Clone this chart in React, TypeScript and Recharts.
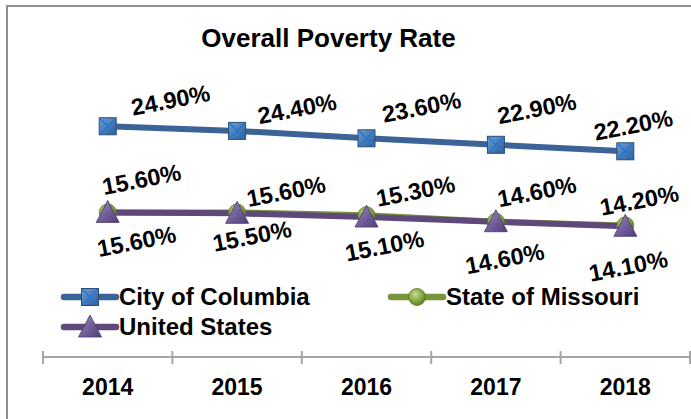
import { LineChart, Line, XAxis, YAxis, Legend, LabelList } from "recharts"

const years = ["2014", "2015", "2016", "2017", "2018"]
const columbia = [24.9, 24.4, 23.6, 22.9, 22.2]
const missouri = [15.6, 15.6, 15.3, 14.6, 14.2]
const unitedStates = [15.6, 15.5, 15.1, 14.6, 14.1]

const data = years.map((year, i) => ({
  year,
  columbia: columbia[i],
  missouri: missouri[i],
  unitedStates: unitedStates[i],
}))

// label centre offsets from each point, as placed in the original
const columbiaLabelPos: [number, number][] = [[63, -26], [60, -22], [55, -31], [41, -36], [8, -26]]
const missouriLabelPos: [number, number][] = [[34, -33], [49, -21], [49, -24], [41, -30], [14, -25]]
const usLabelPos: [number, number][] = [[29, 29], [15, 23], [18, 29], [9, 37], [3, 40]]

const FONT = "'Liberation Sans', Arial, Helvetica, sans-serif"
const BLUE = "#3b6397"
const GREEN = "#77933c"
const PURPLE = "#5f497a"

function makeLabel(offsets: [number, number][]) {
  return (props: any) => {
    const { x, y, value, index } = props
    if (x == null || y == null) return null
    const [dx, dy] = offsets[index] ?? [0, 0]
    const cx = x + dx
    const cy = y + dy
    return (
      <text
        x={cx}
        y={cy}
        textAnchor="middle"
        dominantBaseline="central"
        transform={`rotate(-11 ${cx} ${cy})`}
        fontFamily={FONT}
        fontWeight="bold"
        fontSize={23.5}
        fill="#000"
      >
        {Number(value).toFixed(2)}%
      </text>
    )
  }
}

function SquareMark({ cx, cy }: { cx: number; cy: number }) {
  const s = 8.5
  return (
    <g>
      <rect x={cx - s} y={cy - s} width={s * 2} height={s * 2} fill="url(#sqGrad)" stroke="#2b4c78" strokeWidth={1} />
      <line x1={cx - s + 1} y1={cy - s + 1} x2={cx + s - 1} y2={cy + s - 1} stroke="#1f7ad0" strokeWidth={1.6} />
      <line x1={cx + s - 1} y1={cy - s + 1} x2={cx - s + 1} y2={cy + s - 1} stroke="#1f7ad0" strokeWidth={1.6} />
    </g>
  )
}

function CircleMark({ cx, cy }: { cx: number; cy: number }) {
  return <circle cx={cx} cy={cy} r={8.5} fill="url(#ciGrad)" stroke="#5d7a29" strokeWidth={0.8} />
}

function TriangleMark({ cx, cy }: { cx: number; cy: number }) {
  return (
    <polygon
      points={`${cx},${cy - 12} ${cx + 11.5},${cy + 10} ${cx - 11.5},${cy + 10}`}
      fill="url(#trGrad)"
      stroke="#4a3a6b"
      strokeWidth={0.8}
    />
  )
}

const dotOf = (Mark: any) => (props: any) => {
  const { cx, cy, index } = props
  if (cx == null || cy == null) return <g key={index} />
  return <Mark key={index} cx={cx} cy={cy} />
}

function YearTick(props: any) {
  const { x, y, payload, index, visibleTicksCount } = props
  const half = payload?.offset || 64.7
  const isLast = index === (visibleTicksCount ?? years.length) - 1
  return (
    <g>
      <line x1={x - half} x2={x - half} y1={y - 6} y2={y + 7} stroke="#a6a6a6" strokeWidth={2} />
      {isLast && <line x1={x + half} x2={x + half} y1={y - 6} y2={y + 7} stroke="#a6a6a6" strokeWidth={2} />}
      <text x={x} y={y + 38} textAnchor="middle" fontFamily={FONT} fontWeight="bold" fontSize={23} fill="#000">
        {payload.value}
      </text>
    </g>
  )
}

const legendItems = [
  { name: "City of Columbia", color: BLUE, Mark: SquareMark, left: 61, top: 297 },
  { name: "State of Missouri", color: GREEN, Mark: CircleMark, left: 388, top: 297 },
  { name: "United States", color: PURPLE, Mark: TriangleMark, left: 61, top: 327 },
]

function ChartLegend() {
  return (
    <div style={{ position: "relative", width: 691, height: 419 }}>
      {legendItems.map(({ name, color, Mark, left, top }) => (
        <div
          key={name}
          style={{ position: "absolute", left, top: top - 13, height: 26, display: "flex", alignItems: "center" }}
        >
          <svg width={58} height={26} style={{ overflow: "visible" }}>
            <line x1={3} x2={55} y1={13} y2={13} stroke={color} strokeWidth={6.5} strokeLinecap="round" />
            <Mark cx={29} cy={13} />
          </svg>
          <span style={{ fontFamily: FONT, fontWeight: "bold", fontSize: 24, color: "#000", whiteSpace: "nowrap" }}>
            {name}
          </span>
        </div>
      ))}
    </div>
  )
}

export default function App() {
  return (
    <div style={{ position: "absolute", left: 0, top: 0, width: 691, height: 419, overflow: "hidden", background: "#fff" }}>
      <svg width={0} height={0} style={{ position: "absolute" }}>
        <defs>
          <linearGradient id="sqGrad" x1="0" y1="0" x2="1" y2="1">
            <stop offset="0%" stopColor="#6f9fd8" />
            <stop offset="100%" stopColor="#2c5a94" />
          </linearGradient>
          <radialGradient id="ciGrad" cx="40%" cy="35%" r="65%">
            <stop offset="0%" stopColor="#c7de8e" />
            <stop offset="60%" stopColor="#86a840" />
            <stop offset="100%" stopColor="#5e7d26" />
          </radialGradient>
          <linearGradient id="trGrad" x1="0" y1="0" x2="1" y2="1">
            <stop offset="0%" stopColor="#9a86c0" />
            <stop offset="100%" stopColor="#4f3c78" />
          </linearGradient>
        </defs>
      </svg>
      <div
        style={{ position: "absolute", left: 6, top: 5, width: 800, height: 800, border: "2px solid #8e8e8e", boxSizing: "border-box" }}
      />
      <div
        style={{
          position: "absolute",
          left: 0,
          top: 25,
          width: 657,
          textAlign: "center",
          fontFamily: FONT,
          fontWeight: "bold",
          fontSize: 26,
          lineHeight: "26px",
          color: "#000",
        }}
      >
        Overall Poverty Rate
      </div>
      <div style={{ position: "absolute", left: 0, top: 0 }}>
        <LineChart width={691} height={419} data={data} margin={{ top: 79, right: 1, bottom: 22, left: 43 }}>
          <XAxis
            dataKey="year"
            scale="band"
            height={40}
            axisLine={{ stroke: "#a6a6a6", strokeWidth: 2 }}
            tickLine={false}
            tickSize={0}
            tickMargin={0}
            tick={<YearTick />}
            interval={0}
          />
          <YAxis hide domain={[0, 30]} />
          <Legend
            content={<ChartLegend />}
            layout="horizontal"
            verticalAlign="middle"
            align="center"
            wrapperStyle={{ left: 0, top: 0, width: 691, height: 419, pointerEvents: "none" }}
          />
          <Line
            dataKey="columbia"
            name="City of Columbia"
            stroke={BLUE}
            strokeWidth={6}
            dot={dotOf(SquareMark)}
            activeDot={false}
            isAnimationActive={false}
          >
            <LabelList dataKey="columbia" content={makeLabel(columbiaLabelPos)} />
          </Line>
          <Line
            dataKey="missouri"
            name="State of Missouri"
            stroke={GREEN}
            strokeWidth={6}
            dot={dotOf(CircleMark)}
            activeDot={false}
            isAnimationActive={false}
          >
            <LabelList dataKey="missouri" content={makeLabel(missouriLabelPos)} />
          </Line>
          <Line
            dataKey="unitedStates"
            name="United States"
            stroke={PURPLE}
            strokeWidth={6}
            dot={dotOf(TriangleMark)}
            activeDot={false}
            isAnimationActive={false}
          >
            <LabelList dataKey="unitedStates" content={makeLabel(usLabelPos)} />
          </Line>
        </LineChart>
      </div>
    </div>
  )
}
